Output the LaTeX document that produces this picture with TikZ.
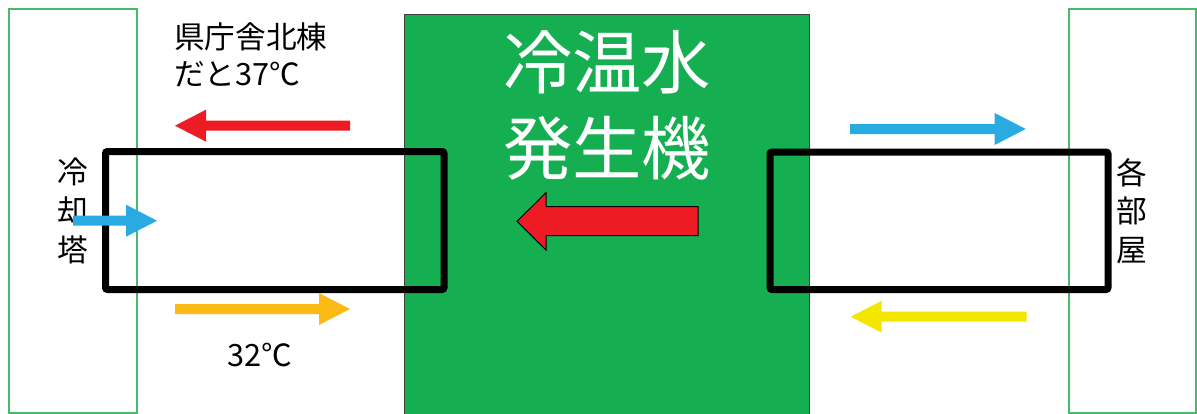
\documentclass[tikz,border=0pt]{standalone}
\usepackage{fontspec}
\setmainfont{Noto Sans CJK JP}
\usetikzlibrary{positioning}
\definecolor{chgreen}{RGB}{21,174,81}
\definecolor{edgegreen}{RGB}{72,186,108}
\definecolor{hotred}{RGB}{237,28,36}
\definecolor{coolblue}{RGB}{41,171,226}
\definecolor{warmorange}{RGB}{252,186,22}
\definecolor{backyellow}{RGB}{243,230,0}
% flat block arrow: style, x of tail, x of tip, y
\newcommand{\flowarrow}[4]{%
  \pgfmathsetmacro\hbase{#3-31*sign(#3-#2)}
  \fill[#1] (#2,#4-5) -- (\hbase,#4-5) -- (\hbase,#4-16) -- (#3,#4)
    -- (\hbase,#4+16) -- (\hbase,#4+5) -- (#2,#4+5) -- cycle;}

\begin{document}
\begin{tikzpicture}[x=0.75pt,y=-0.75pt]
\tikzstyle{outerbox}=[draw=edgegreen,line width=1pt]
\tikzstyle{loop}=[draw=black,line width=5.25pt,rounded corners=1.5pt]
\tikzstyle{sidelabel}=[inner sep=0pt,align=center,font=\fontsize{23}{29}\selectfont]
\useasboundingbox (0,0) rectangle (1197,414);
% towers, chiller
\draw [outerbox] (9,9) rectangle (137,413);
\draw [outerbox] (1069,9) rectangle (1196,413);
\filldraw [fill=chgreen,draw=black!75,line width=0.75pt] (404,14) rectangle (809,416);
% water loops
\draw [loop] (105.5,151.5) rectangle (444,289.5);
\draw [loop] (770,152) rectangle (1108,289.5);
% labels
\node [sidelabel] (tower) at (73,211) {冷\\却\\塔};
\node [sidelabel] (rooms) at (1132,211) {各\\部\\屋};
\node [inner sep=0pt,anchor=west,align=left,font=\fontsize{23}{27.75}\selectfont] (north) at (174,54.5) {県庁舎北棟\\だと37℃};
\node [inner sep=0pt,font=\fontsize{23}{27.75}\selectfont] (low) at (260,355) {32℃};
\node [inner sep=0pt,align=center,text=white,font=\fontsize{52}{64.5}\selectfont] (chiller) at (607,105) {冷温水\\発生機};
% flows
\flowarrow{hotred}{350}{175}{125.7}
\flowarrow{warmorange}{175}{350}{309}
\flowarrow{coolblue}{73}{157}{220.7}
\flowarrow{coolblue}{850}{1025.7}{129}
\flowarrow{backyellow}{1026.7}{850.7}{316.7}
\filldraw [fill=hotred,draw=black,line width=0.75pt] (698,206.7) -- (546,206.7) -- (546,192.7)
  -- (517,221.3) -- (546,250) -- (546,235.7) -- (698,235.7) -- cycle;
\end{tikzpicture}
\end{document}
